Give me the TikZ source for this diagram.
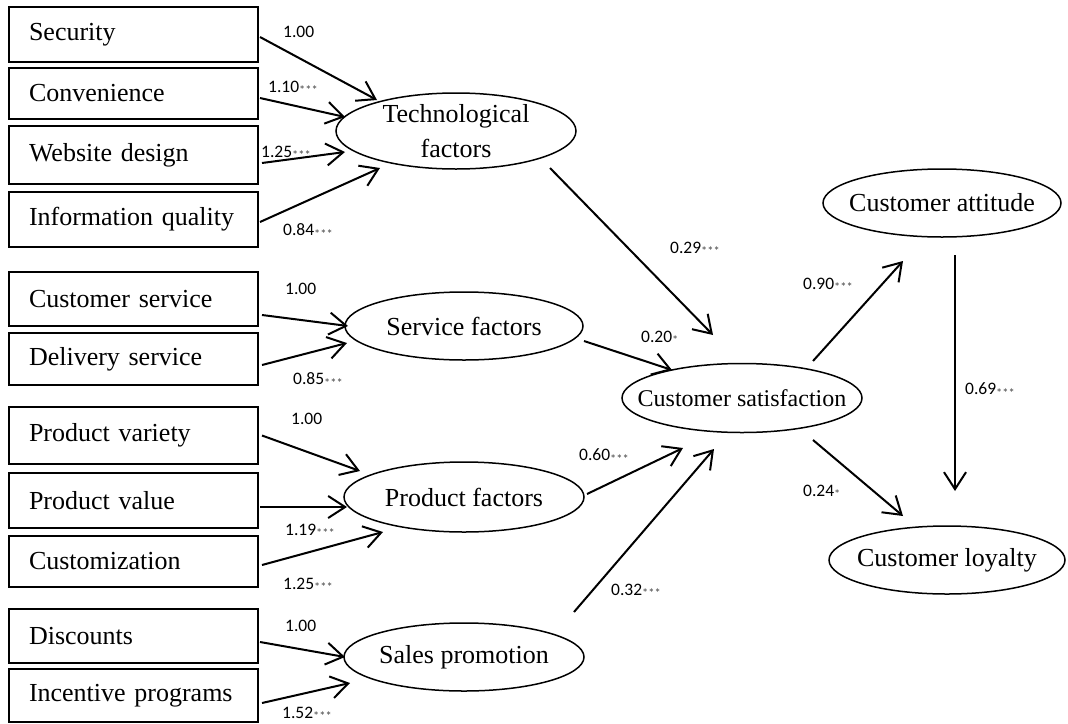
\documentclass[tikz,border=0pt]{standalone}
\usepackage{fontspec}
\setmainfont{Liberation Serif}
\newfontfamily\numfont{Carlito}
\usetikzlibrary{arrows.meta,calc,shapes.geometric}
\newcommand\sig[1]{{\color{black!70}\fontsize{12.5}{12}\selectfont\raisebox{-2.5pt}{#1}}}
\begin{document}
\begin{tikzpicture}[x=1pt,y=-1pt,
  box/.style={draw, line width=2pt, anchor=west, minimum width=249pt, text width=209pt,
    inner xsep=20pt, inner ysep=0pt, align=left, font=\fontsize{26}{28}\selectfont},
  lat/.style={draw, ellipse, line width=1.5pt, inner sep=-20pt, align=center,
    font=\fontsize{26}{35}\selectfont},
  arr/.style={line width=2pt, -{Straight Barb[length=17pt,width=22pt]}},
  lbl/.style={anchor=west, inner sep=0pt, font=\numfont\fontsize{17.5}{18}\selectfont}
]
\useasboundingbox (0,0) rectangle (1068,723);

% indicator boxes
\node[box, minimum height=55pt] (sec)  at (8,34.5)  {Security};
\node[box, minimum height=51pt] (conv) at (8,93.5)  {Convenience};
\node[box, minimum height=58pt] (web)  at (8,155)   {Website design};
\node[box, minimum height=55pt] (info) at (8,219.5) {Information quality};
\node[box, minimum height=54pt] (cser) at (8,299)   {Customer service};
\node[box, minimum height=52pt] (deli) at (8,359)   {Delivery service};
\node[box, minimum height=57pt] (pvar) at (8,435.5) {Product variety};
\node[box, minimum height=55pt] (pval) at (8,500.5) {Product value};
\node[box, minimum height=51pt] (cust) at (8,561.5) {Customization};
\node[box, minimum height=54pt] (disc) at (8,636)   {Discounts};
\node[box, minimum height=53pt] (ince) at (8,695.5) {Incentive programs};

% latent variables
\node[lat, minimum width=240pt, minimum height=76pt] (tech) at (456,131) {Technological\\factors};
\node[lat, minimum width=238pt, minimum height=68pt] (serv) at (464,326) {Service factors};
\node[lat, minimum width=240pt, minimum height=70pt] (prod) at (464,497) {Product factors};
\node[lat, minimum width=240pt, minimum height=68pt] (sale) at (464,657) {Sales promotion};
\node[lat, minimum width=240pt, minimum height=69pt, font=\fontsize{24}{28}\selectfont] (csat) at (742,398) {Customer satisfaction};
\node[lat, minimum width=238pt, minimum height=68pt] (catt) at (942,203) {Customer attitude};
\node[lat, minimum width=236pt, minimum height=68pt] (cloy) at (947,560) {Customer loyalty};

% measurement arrows
\draw[arr] ($(sec.east)+(1,2.5)$)  -- ($(tech)+(-79,-31)$);
\draw[arr] ($(conv.east)+(1,4.5)$) -- ($(tech)+(-111,-14)$);
\draw[arr] ($(web.east)+(3,8)$)    -- ($(tech)+(-111,21)$);
\draw[arr] ($(info.east)+(1,2.5)$) -- ($(tech)+(-76,37)$);
\draw[arr] ($(cser.east)+(3,16)$)  -- ($(serv)+(-116,0)$);
\draw[arr] ($(deli.east)+(3,6)$)   -- ($(serv)+(-117,17)$);
\draw[arr] ($(pvar.east)+(3,0)$)   -- ($(prod)+(-104,-26)$);
\draw[arr] ($(pval.east)+(1,6.5)$) -- ($(prod)+(-117,10)$);
\draw[arr] ($(cust.east)+(3,3.5)$) -- ($(prod)+(-81,35)$);
\draw[arr] ($(disc.east)+(1,6)$)   -- ($(sale)+(-119,0)$);
\draw[arr] ($(ince.east)+(3,7.5)$) -- ($(sale)+(-114,26)$);

% structural arrows
\draw[arr] ($(tech)+(94,37)$)   -- ($(csat)+(-29,-63)$);
\draw[arr] ($(serv)+(120,15)$)  -- ($(csat)+(-70,-28)$);
\draw[arr] ($(prod)+(123,-3)$)  -- ($(csat)+(-59,50)$);
\draw[arr] ($(sale)+(110,-45)$) -- ($(csat)+(-28,51)$);
\draw[arr] ($(csat)+(71,-37)$)  -- ($(catt)+(-39,58)$);
\draw[arr] ($(csat)+(71,42)$)   -- ($(cloy)+(-44,-44)$);
\draw[arr] ($(catt)+(13,52)$)   -- ($(cloy)+(8,-69)$);

% labels
\node[lbl] (l1)  at (283,32)  {1.00};
\node[lbl] (l2)  at (268,88)  {1.10\sig{***}};
\node[lbl] (l3)  at (261,153) {1.25\sig{***}};
\node[lbl] (l4)  at (283,231) {0.84\sig{***}};
\node[lbl] (l5)  at (285,289) {1.00};
\node[lbl] (l6)  at (293,380) {0.85\sig{***}};
\node[lbl] (l7)  at (291,419) {1.00};
\node[lbl] (l8)  at (285,531) {1.19\sig{***}};
\node[lbl] (l9)  at (283,585) {1.25\sig{***}};
\node[lbl] (l10) at (285,626) {1.00};
\node[lbl] (l11) at (282,714) {1.52\sig{***}};
\node[lbl] (l12) at (670,249) {0.29\sig{***}};
\node[lbl] (l13) at (641,338) {0.20\sig{*}};
\node[lbl] (l14) at (803,285) {0.90\sig{***}};
\node[lbl] (l15) at (965,390) {0.69\sig{***}};
\node[lbl] (l16) at (579,456) {0.60\sig{***}};
\node[lbl] (l17) at (803,492) {0.24\sig{*}};
\node[lbl] (l18) at (611,591) {0.32\sig{***}};
\end{tikzpicture}
\end{document}
